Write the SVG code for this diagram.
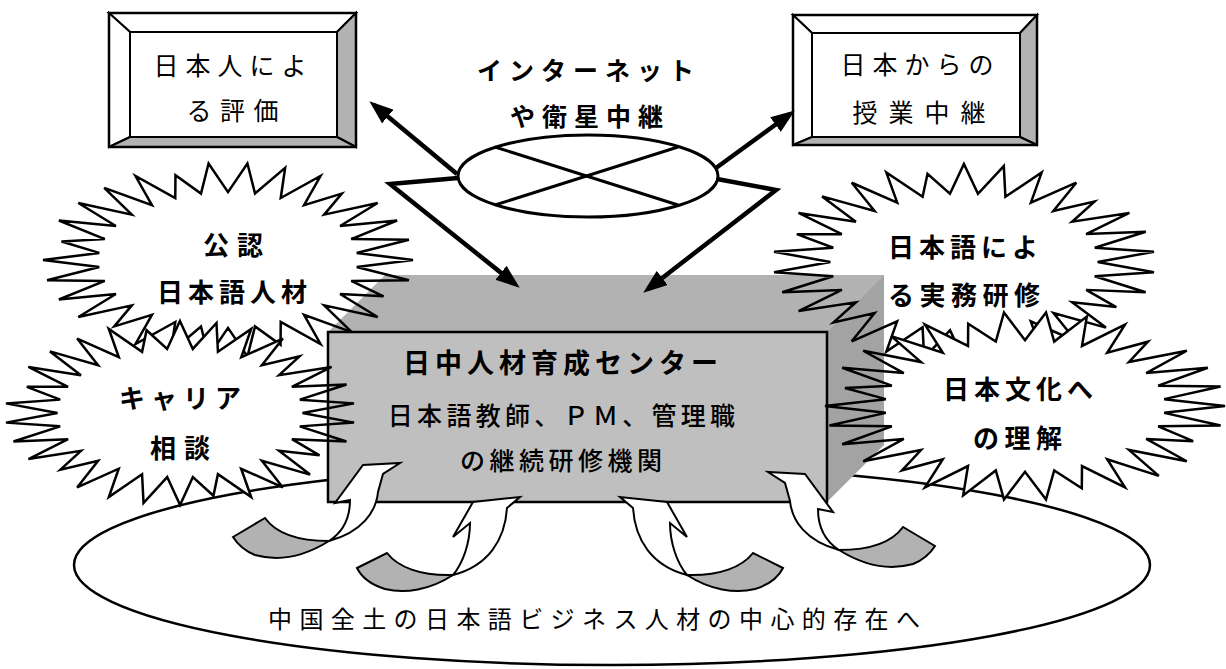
<svg xmlns="http://www.w3.org/2000/svg" width="1226" height="669" viewBox="0 0 1226 669">
<style>
text{font-family:"Noto Sans CJK JP","Noto Sans CJK SC",sans-serif;fill:#000}
.t{font-size:25px}
.b{font-size:26px;font-weight:bold}
.ln{stroke:#000;stroke-width:2;stroke-linejoin:miter}
.shade{fill:#b2b2b2}
.conn{fill:none;stroke:#000;stroke-width:4.5;stroke-linejoin:miter}
</style>
<defs>
<marker id="ah" markerUnits="userSpaceOnUse" markerWidth="24" markerHeight="18" refX="18" refY="9" orient="auto">
<path d="M0,0 L24,9 L0,18 Z" fill="#000"/>
</marker>
<polygon id="burst" fill="#fff" stroke="#000" stroke-width="2.5" vector-effect="non-scaling-stroke" stroke-linejoin="miter" points="100,0 69.6,7.3 97.8,20.8 66.6,21.6 84.1,37.4 60.6,35 80.9,58.8 52,46.8 66.9,74.3 41.1,56.6 50,86.6 28.5,63.9 28.4,87.5 14.6,68.5 10.5,99.5 0,70 -10.5,99.5 -14.6,68.5 -30.9,95.1 -28.5,63.9 -50,86.6 -41.1,56.6 -61.5,68.4 -52,46.8 -80.9,58.8 -60.6,35 -91.4,40.7 -66.6,21.6 -97.8,20.8 -69.6,7.3 -100,0 -69.6,-7.3 -90,-19.1 -66.6,-21.6 -91.4,-40.7 -60.6,-35 -80.9,-58.8 -52,-46.8 -66.9,-74.3 -41.1,-56.6 -50,-86.6 -28.5,-63.9 -28.4,-87.5 -14.6,-68.5 -10.5,-99.5 0,-70 10.5,-99.5 14.6,-68.5 30.9,-95.1 28.5,-63.9 50,-86.6 41.1,-56.6 61.5,-68.4 52,-46.8 80.9,-58.8 60.6,-35 91.4,-40.7 66.6,-21.6 97.8,-20.8 69.6,-7.3"/>
<g id="curvA">
<path class="ln shade" d="M233,537 L265,518 C275,532 295,541 329,541 C305,556 280,562 255,555 C245,551 238,545 233,537 Z"/>
<path class="ln" fill="#fff" d="M329,541 C343,532 350,517 350,500 L335,503 L363,465 L400,463 L383,474 L378,492 C376,512 362,532 329,541 Z"/>
</g>
<g id="curvB">
<path class="ln shade" d="M357,568 L387,553 C398,567 420,576 453,575 C430,590 405,594 385,589 C372,585 362,578 357,568 Z"/>
<path class="ln" fill="#fff" d="M453,575 C463,563 470,543 470,523 L453,537 L473,502 L520,497 L507,508 C505,540 488,566 453,575 Z"/>
</g>
</defs>

<rect width="1226" height="669" fill="#fff"/>

<g id="base-ellipse">
<ellipse cx="612" cy="565" rx="538" ry="100" fill="#fff" stroke="#000" stroke-width="2.5"/>
<text x="597.7" y="628" text-anchor="middle" style="font-size:24px" letter-spacing="7.4">中国全土の日本語ビジネス人材の中心的存在へ</text>
</g>

<polygon id="box-backing" points="328,332 385,275 884,275 884,445 827,502 328,502" fill="#fff"/>

<g id="node-eval">
<polygon class="ln" fill="#fff" points="109,13 356,13 337,32 130,32"/>
<polygon class="ln" fill="#fff" points="109,13 130,32 130,137 109,147"/>
<polygon class="ln shade" points="356,13 356,147 337,137 337,32"/>
<polygon class="ln shade" points="109,147 130,137 337,137 356,147"/>
<rect x="130" y="32" width="207" height="105" fill="#fff" class="ln"/>
<rect x="109" y="13" width="247" height="134" fill="none" stroke="#000" stroke-width="2.5"/>
<text class="t" x="233.5" y="75" text-anchor="middle" letter-spacing="7">日本人によ</text>
<text class="t" x="236.75" y="120" text-anchor="middle" letter-spacing="8.5">る評価</text>
</g>

<g id="node-lesson">
<polygon class="ln" fill="#fff" points="793,15 1037,15 1020,33 812,33"/>
<polygon class="ln" fill="#fff" points="793,15 812,33 812,137 793,145"/>
<polygon class="ln shade" points="1037,15 1037,145 1020,137 1020,33"/>
<polygon class="ln shade" points="793,145 812,137 1020,137 1037,145"/>
<rect x="812" y="33" width="208" height="104" fill="#fff" class="ln"/>
<rect x="793" y="15" width="244" height="130" fill="none" stroke="#000" stroke-width="2.5"/>
<text class="t" x="920.5" y="74" text-anchor="middle" letter-spacing="7">日本からの</text>
<text class="t" x="924.5" y="122" text-anchor="middle" letter-spacing="11">授業中継</text>
</g>

<g id="node-network">
<text class="b" style="font-size:25px" x="589" y="80" text-anchor="middle" letter-spacing="7">インターネット</text>
<text class="b" style="font-size:25px" x="590" y="126" text-anchor="middle" letter-spacing="7">や衛星中継</text>
<ellipse cx="588" cy="176" rx="130" ry="41" fill="#fff" stroke="#000" stroke-width="3"/>
<line x1="495" y1="147" x2="678" y2="205" stroke="#000" stroke-width="3"/>
<line x1="495" y1="205" x2="678" y2="147" stroke="#000" stroke-width="3"/>
</g>

<g id="node-certified">
<use href="#burst" transform="translate(228,260) scale(1.85,0.97)"/>
<text class="b" x="237" y="255" text-anchor="middle" letter-spacing="8">公認</text>
<text class="b" x="234.5" y="302" text-anchor="middle" letter-spacing="5">日本語人材</text>
</g>
<g id="node-career">
<use href="#burst" transform="translate(180,413) scale(1.75,0.92) rotate(6)"/>
<text class="b" x="183" y="408" text-anchor="middle" letter-spacing="6">キャリア</text>
<text class="b" x="184" y="458" text-anchor="middle" letter-spacing="8">相談</text>
</g>
<g id="node-training">
<use href="#burst" transform="translate(964,262) scale(1.91,0.98) rotate(6)"/>
<text class="b" x="965.5" y="257" text-anchor="middle" letter-spacing="5">日本語によ</text>
<text class="b" x="966.75" y="305" text-anchor="middle" letter-spacing="5.5">る実務研修</text>
</g>
<g id="node-culture">
<use href="#burst" transform="translate(1025,406) scale(2.0,0.94)"/>
<text class="b" x="1020.5" y="399" text-anchor="middle" letter-spacing="5">日本文化へ</text>
<text class="b" x="1020.25" y="448" text-anchor="middle" letter-spacing="5.5">の理解</text>
</g>

<g id="node-center">
<polygon points="328,332 385,275 884,275 827,332" fill="#000" fill-opacity="0.3"/>
<polygon points="827,332 884,275 884,445 827,502" fill="#000" fill-opacity="0.36"/>
<rect x="328" y="332" width="499" height="170" fill="#000" fill-opacity="0.25" stroke="#000" stroke-width="2.5"/>
<text x="563" y="373" text-anchor="middle" font-weight="bold" style="font-size:27px" letter-spacing="5">日中人材育成センター</text>
<text class="t" x="563.6" y="425" text-anchor="middle" font-weight="500" letter-spacing="4.3">日本語教師、ＰＭ、管理職</text>
<text class="t" x="563.25" y="470" text-anchor="middle" font-weight="500" letter-spacing="4.5">の継続研修機関</text>
</g>

<g id="connectors">
<path class="conn" d="M457,174 L374,105" marker-end="url(#ah)"/>
<path class="conn" d="M716,168 L790,114" marker-end="url(#ah)"/>
<path class="conn" d="M458,178 L390,184 L515,284" marker-end="url(#ah)"/>
<path class="conn" d="M717,179 L776,190 L648,289" marker-end="url(#ah)"/>
</g>

<g id="curved-arrows">
<use href="#curvA"/>
<use href="#curvB"/>
<use href="#curvB" transform="matrix(-1,0,0,1,1140,0)"/>
<use href="#curvA" transform="matrix(-1,0,0,1,1168,9)"/>
</g>
</svg>
